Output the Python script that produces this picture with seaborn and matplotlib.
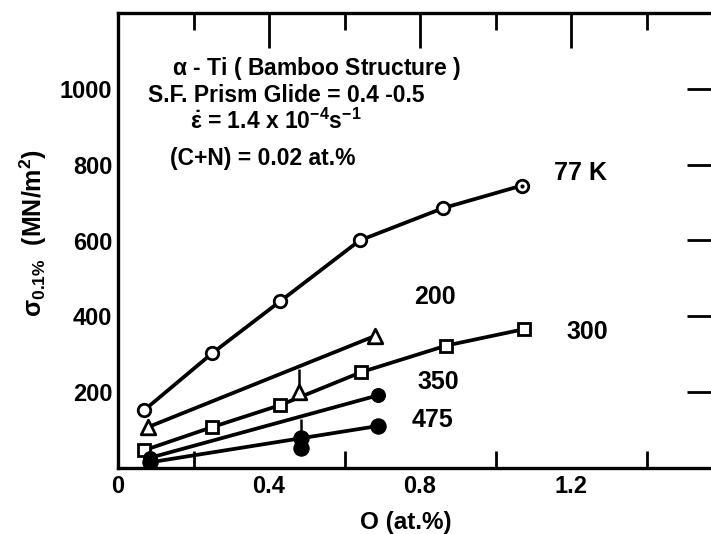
import numpy as np
import pandas as pd
import seaborn as sns
import matplotlib
matplotlib.use("Agg")
import matplotlib.pyplot as plt
from matplotlib.ticker import MultipleLocator

# ---- data ----
x_77 = [0.07, 0.25, 0.43, 0.64, 0.86, 1.07]
y_77 = [153, 303, 440, 600, 685, 745]

x_300 = [0.07, 0.25, 0.43, 0.645, 0.87, 1.075]
y_300 = [47, 108, 166, 253, 323, 366]

x_200_pts = [0.08, 0.48, 0.68]
y_200_pts = [108, 200, 348]
x_200_line = [0.08, 0.68]
y_200_line = [108, 348]
err_200_x = [0.48]
err_200_lo = [200]
err_200_hi = [260]

x_350_pts = [0.085, 0.69]
y_350_pts = [27, 192]

x_475_pts = [0.085, 0.485, 0.485, 0.69]
y_475_pts = [15, 79, 53, 111]
x_475_line = [0.085, 0.69]
y_475_line = [15, 111]
err_475_x = [0.485]
err_475_lo = [79]
err_475_hi = [128]

series_labels = ["77 K", "200", "300", "350", "475"]
label_pos_x = [1.226, 0.840, 1.242, 0.848, 0.832]
label_pos_y = [779, 450, 358, 226, 126]

x_ticks = [0, 0.4, 0.8, 1.2]
x_tick_labels = ["0", "0.4", "0.8", "1.2"]
y_ticks = [200, 400, 600, 800, 1000]

notes = [r"$\alpha$ - Ti ( Bamboo Structure )",
         "S.F. Prism Glide = 0.4 -0.5",
         r"$\dot{\epsilon}$ = 1.4 x 10$^{-4}$s$^{-1}$",
         "(C+N) = 0.02 at.%"]

# ---- style ----
sns.set_theme(style="white")
plt.rcParams["font.family"] = ["Liberation Sans", "DejaVu Sans"]
plt.rcParams["font.weight"] = "bold"
plt.rcParams["text.color"] = "black"
plt.rcParams["axes.labelcolor"] = "black"
plt.rcParams["xtick.color"] = "black"
plt.rcParams["ytick.color"] = "black"
plt.rcParams["mathtext.fontset"] = "custom"
plt.rcParams["mathtext.rm"] = "Liberation Sans:bold"
plt.rcParams["mathtext.it"] = "Liberation Sans:bold"
plt.rcParams["mathtext.bf"] = "Liberation Sans:bold"
plt.rcParams["mathtext.default"] = "bf"

fig = plt.figure(figsize=(7.11, 5.34), dpi=100)
ax = fig.add_axes([118 / 711, 66 / 534, 604 / 711, 455 / 534])

LW = 2.7
MS = 9
MEW = 2.0

sns.lineplot(x=x_77, y=y_77, ax=ax, color="black", lw=LW, marker="o", ms=MS,
             mfc="white", mec="black", mew=MEW, estimator=None, sort=False)
sns.lineplot(x=x_300, y=y_300, ax=ax, color="black", lw=LW, marker="s", ms=MS,
             mfc="white", mec="black", mew=MEW, estimator=None, sort=False)
sns.lineplot(x=x_200_line, y=y_200_line, ax=ax, color="black", lw=LW,
             estimator=None, sort=False)
sns.scatterplot(x=x_200_pts, y=y_200_pts, ax=ax, marker="^", s=110,
                facecolor="white", edgecolor="black", linewidth=MEW, zorder=5)
sns.lineplot(x=x_350_pts, y=y_350_pts, ax=ax, color="black", lw=LW, marker="o",
             ms=MS + 1, mfc="black", mec="black", estimator=None, sort=False)
sns.lineplot(x=x_475_line, y=y_475_line, ax=ax, color="black", lw=LW,
             estimator=None, sort=False)
sns.scatterplot(x=x_475_pts, y=y_475_pts, ax=ax, marker="o", s=120,
                color="black", edgecolor="black", zorder=5)
ax.vlines(err_200_x, err_200_lo, err_200_hi, color="black", lw=1.8)
ax.vlines(err_475_x, err_475_lo, err_475_hi, color="black", lw=1.8)
# center dot of last 77 K point
ax.plot([x_77[-1]], [y_77[-1]], marker="o", ms=2, color="black")

for lab, lx, ly in zip(series_labels, label_pos_x, label_pos_y):
    ax.text(lx, ly, lab, fontsize=18, fontweight="bold", ha="center", va="center")

note_x = [0.143, 0.079, 0.19, 0.138]
note_y = [1053, 982, 915, 817]
for t, nx, ny in zip(notes, note_x, note_y):
    ax.text(nx, ny, t, fontsize=16.5, fontweight="bold", ha="left", va="center")

ax.set_xlim(0, 1.6)
ax.set_ylim(0, 1200)
ax.set_xticks(x_ticks)
ax.set_xticklabels(x_tick_labels)
ax.xaxis.set_minor_locator(MultipleLocator(0.2))
ax.set_yticks(y_ticks)
ax.tick_params(axis="both", which="major", direction="in", length=25, width=2,
               labelsize=17, color="black", labelcolor="black", top=True, right=True)
ax.tick_params(axis="x", which="minor", direction="in", length=12, width=2,
               color="black", top=True, bottom=True)
ax.tick_params(axis="x", which="major", pad=5)
ax.tick_params(axis="y", which="major", pad=4)
for s in ax.spines.values():
    s.set_linewidth(2.4)
    s.set_color("black")

ax.set_xlabel("O (at.%)", fontsize=17.5, fontweight="bold", color="black")
ax.set_ylabel(r"$\sigma_{0.1\%}$  (MN/m$^2$)", fontsize=18, fontweight="bold", color="black")
ax.xaxis.set_label_coords((406 - 118) / 604, (468 - 523) / 455)
ax.yaxis.set_label_coords((33 - 118) / 604, (468 - 233) / 455)
ax.xaxis.label.set_va("center")
ax.yaxis.label.set_va("center")

fig.savefig("out.png", dpi=100)
